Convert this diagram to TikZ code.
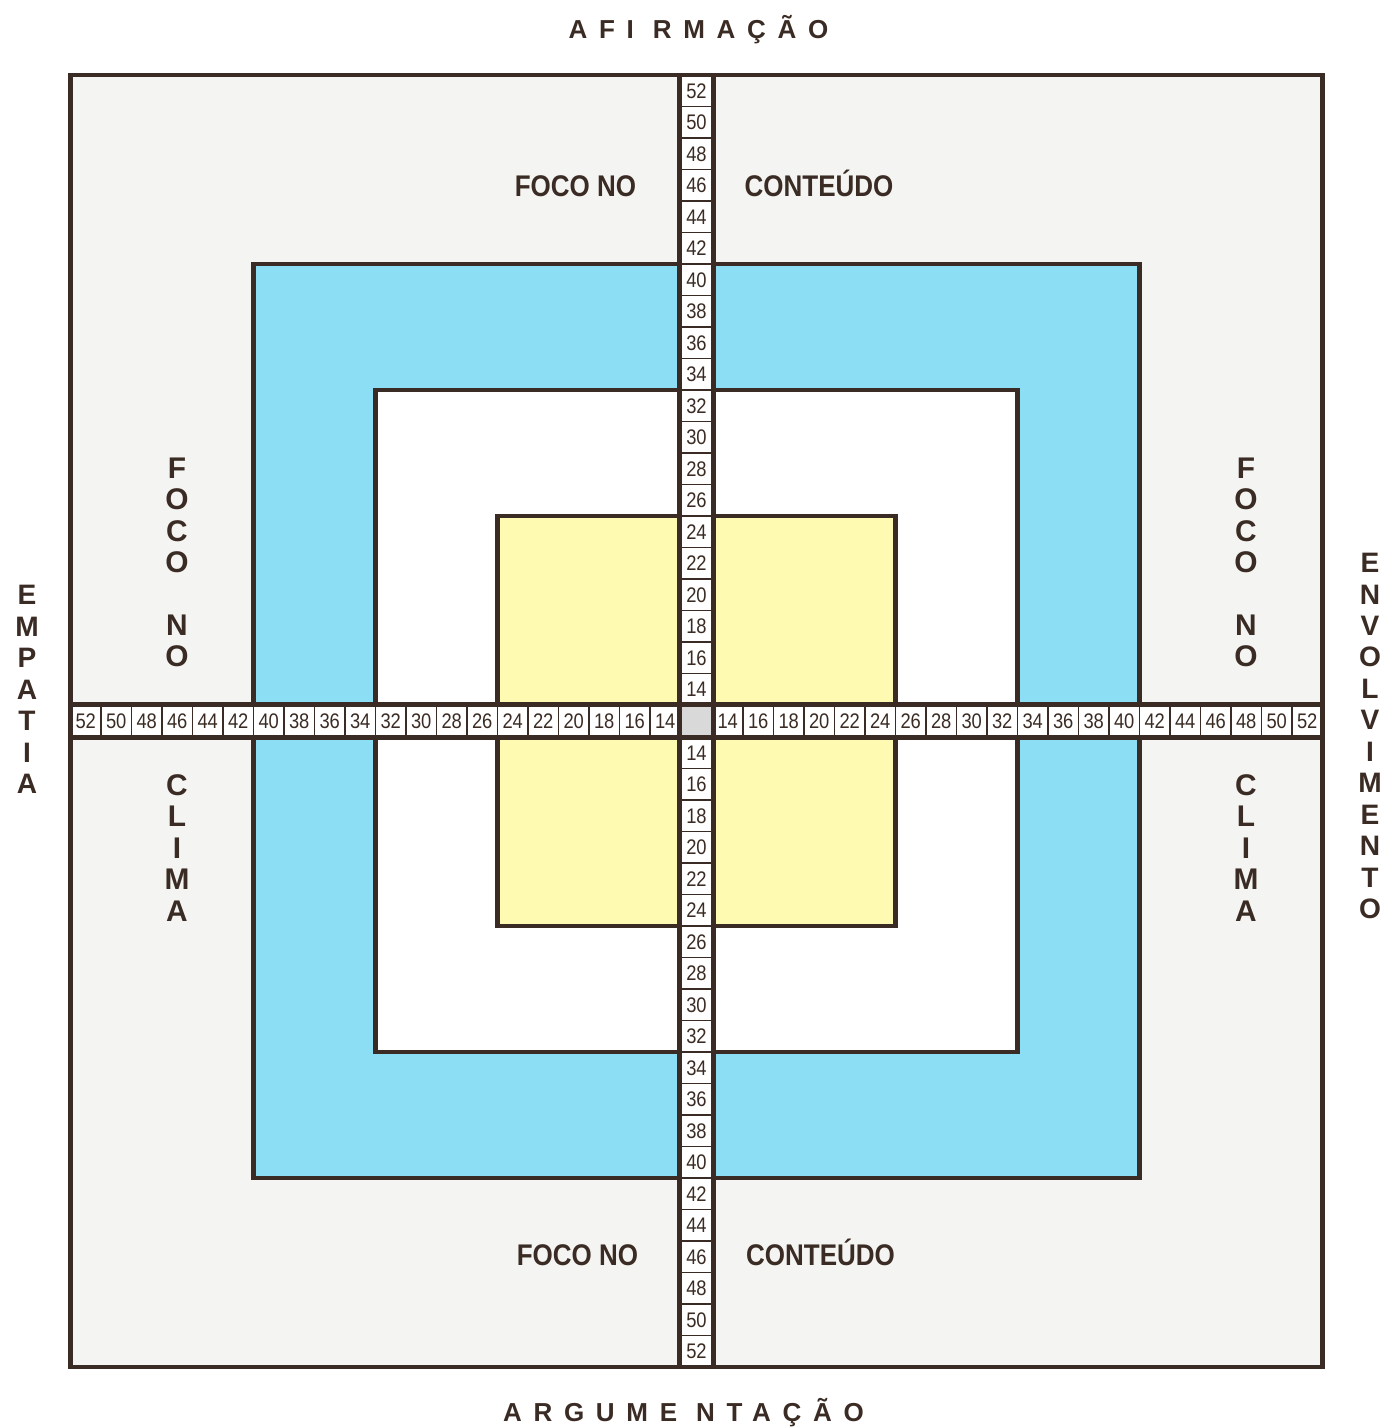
\documentclass[tikz,border=0pt]{standalone}
\usepackage{fontspec}
\setmainfont{Liberation Sans}
\newfontfamily\tightfont[FakeStretch=0.87]{Liberation Sans}
\newfontfamily\widefont[LetterSpace=45]{Liberation Sans}
\usetikzlibrary{positioning}

\definecolor{ink}{RGB}{58,44,36}
\definecolor{paper}{RGB}{244,244,242}
\definecolor{skyfill}{RGB}{140,222,244}
\definecolor{lemon}{RGB}{255,250,178}

\begin{document}
\begin{tikzpicture}[x=0.02cm, y=0.02cm,
  frame/.style={draw=ink, line width=2.8pt},
  vcell/.style={draw=ink, line width=0.8pt, fill=white, inner sep=0pt, text=ink,
    minimum width=0.64cm, minimum height=0.63cm, font=\tightfont\fontsize{12}{12}\selectfont},
  hcell/.style={vcell, minimum width=0.61cm, minimum height=0.64cm},
  focus/.style={text=ink, text height=12.5pt, text depth=0pt,
    font=\tightfont\fontsize{17}{17}\selectfont\bfseries},
  stack/.style={align=center, text=ink, inner sep=0pt,
    font=\fontsize{17}{17.9}\selectfont\bfseries},
  axis/.style={align=center, text=ink, inner sep=0pt,
    font=\fontsize{16}{17.9}\selectfont\bfseries},
  title/.style={text=ink, inner sep=0pt, font=\widefont\fontsize{14.8}{14.8}\selectfont\bfseries}]
  \useasboundingbox (-696.5,-707) rectangle (688.5,721);
  \fill[white] (-696.5,-707) rectangle (688.5,721);

  % nested squares
  \draw[frame, fill=paper] (-626,-646) rectangle (626,646);
  \draw[frame, fill=skyfill] (-443,-457) rectangle (443,457);
  \draw[frame, fill=white] (-321,-331) rectangle (321,331);
  \draw[frame, fill=lemon] (-199,-205) rectangle (199,205);

  % the two scales
  \foreach \n in {14,16,...,52} {
    \node[vcell] (t\n) at (0,{16+15.75*(\n-13)}) {\n};
    \node[vcell] (b\n) at (0,{-16-15.75*(\n-13)}) {\n};
    \node[hcell] (l\n) at ({-16-15.25*(\n-13)},0) {\n};
    \node[hcell] (r\n) at ({16+15.25*(\n-13)},0) {\n};
  }
  \node[vcell, minimum height=0.64cm, fill=gray!30] (mid) at (0,0) {};
  \draw[frame] (t52.north west) -- (b52.south west);
  \draw[frame] (t52.north east) -- (b52.south east);
  \draw[frame] (l52.north west) -- (r52.north east);
  \draw[frame] (l52.south west) -- (r52.south east);
  \draw[frame] (-626,-646) rectangle (626,646);

  % quadrant texts
  \node[focus] (fnT) at (-121,535) {FOCO NO};
  \node[focus] (ctT) at (122.5,535) {CONTEÚDO};
  \node[focus] (fnB) at (-119,-534) {FOCO NO};
  \node[focus] (ctB) at (124,-534) {CONTEÚDO};
  \node[stack] (fnL) at (-519.5,158.5) {F\\O\\C\\O\\[17.9pt]N\\O};
  \node[stack] (clL) at (-519.5,-127) {C\\L\\I\\M\\A};
  \node[stack] (fnR) at (549.5,158.5) {F\\O\\C\\O\\[17.9pt]N\\O};
  \node[stack] (clR) at (549.5,-127) {C\\L\\I\\M\\A};

  % axis names
  \node[axis] (emp) at (-669.5,31.5) {E\\M\\P\\A\\T\\I\\A};
  \node[axis] (env) at (673.5,-15) {E\\N\\V\\O\\L\\V\\I\\M\\E\\N\\T\\O};
  \node[title] (afi) at (2,691) {AFI RMAÇÃO};
  \node[title] (arg) at (-13,-692) {ARGUME NTAÇÃO};
\end{tikzpicture}
\end{document}
